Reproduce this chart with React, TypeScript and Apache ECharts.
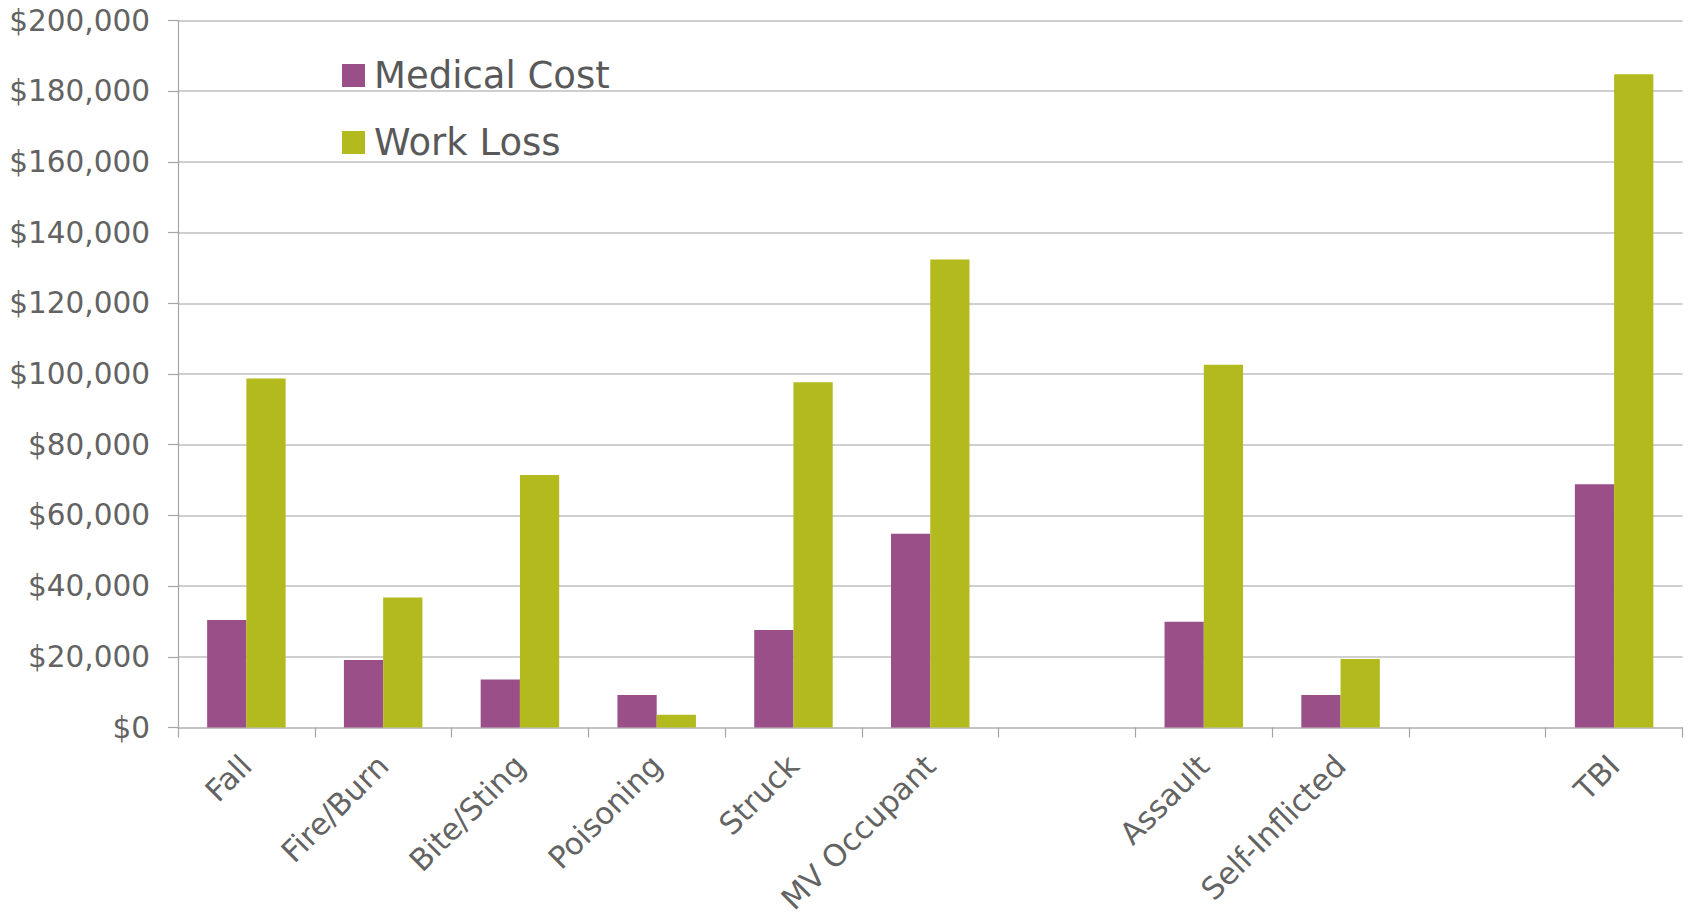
import { useEffect, useRef } from "react";
import * as echarts from "echarts";

const categories = ["Fall", "Fire/Burn", "Bite/Sting", "Poisoning", "Struck", "MV Occupant", " ", "Assault", "Self-Inflicted", "  ", "TBI"];
const seriesNames = ["Medical Cost", "Work Loss"];
const medicalCost = [30400, 19100, 13600, 9200, 27600, 54800, null, 29900, 9200, null, 68800];
const workLoss = [98700, 36800, 71400, 3600, 97700, 132400, null, 102600, 19400, null, 184800];
const yTicks = { min: 0, max: 200000, interval: 20000 };

export default function App() {
  const ref = useRef<HTMLDivElement>(null);
  useEffect(() => {
    document.body.style.margin = "0";
    const chart = echarts.init(ref.current!, null, { renderer: "svg" });
    const font = "DejaVu Sans";
    chart.setOption({
      animation: false,
      backgroundColor: "#ffffff",
      grid: { left: 178, top: 20.5, right: 5.5, bottom: 194.5, containLabel: false, outerBoundsMode: "none" },
      legend: {
        orient: "vertical",
        left: 342,
        top: 57,
        padding: 0,
        itemWidth: 23,
        itemHeight: 23,
        itemGap: 30,
        icon: "rect",
        data: seriesNames,
        textStyle: { fontFamily: font, fontSize: 37, color: "#595959", padding: [0, 0, 0, 4] },
      },
      xAxis: {
        type: "category",
        data: categories,
        axisLine: { lineStyle: { color: "#BFBFBF", width: 1.5 } },
        axisTick: { show: true, interval: 0, length: 10, lineStyle: { color: "#A6A6A6", width: 1.2 } },
        axisLabel: { interval: 0, rotate: 45, margin: 33, fontFamily: font, fontSize: 30.5, color: "#636363" },
      },
      yAxis: {
        type: "value",
        min: yTicks.min,
        max: yTicks.max,
        interval: yTicks.interval,
        axisLine: { show: true, lineStyle: { color: "#A6A6A6", width: 1.2 } },
        axisTick: { show: true, length: 10, lineStyle: { color: "#A6A6A6", width: 1.2 } },
        splitLine: { lineStyle: { color: "#BFBFBF", width: 1.5 } },
        axisLabel: {
          margin: 28,
          fontFamily: font,
          fontSize: 29.5,
          color: "#636363",
          formatter: (v: number) => "$" + v.toLocaleString("en-US"),
        },
      },
      series: [
        {
          name: seriesNames[0],
          type: "bar",
          data: medicalCost,
          barGap: "0%",
          barCategoryGap: "42.6%",
          itemStyle: { color: "#9B4F89" },
        },
        {
          name: seriesNames[1],
          type: "bar",
          data: workLoss,
          barGap: "0%",
          barCategoryGap: "42.6%",
          itemStyle: { color: "#B3BA1E" },
        },
      ],
    });
    return () => chart.dispose();
  }, []);
  return <div ref={ref} style={{ width: 1688, height: 922 }} />;
}
